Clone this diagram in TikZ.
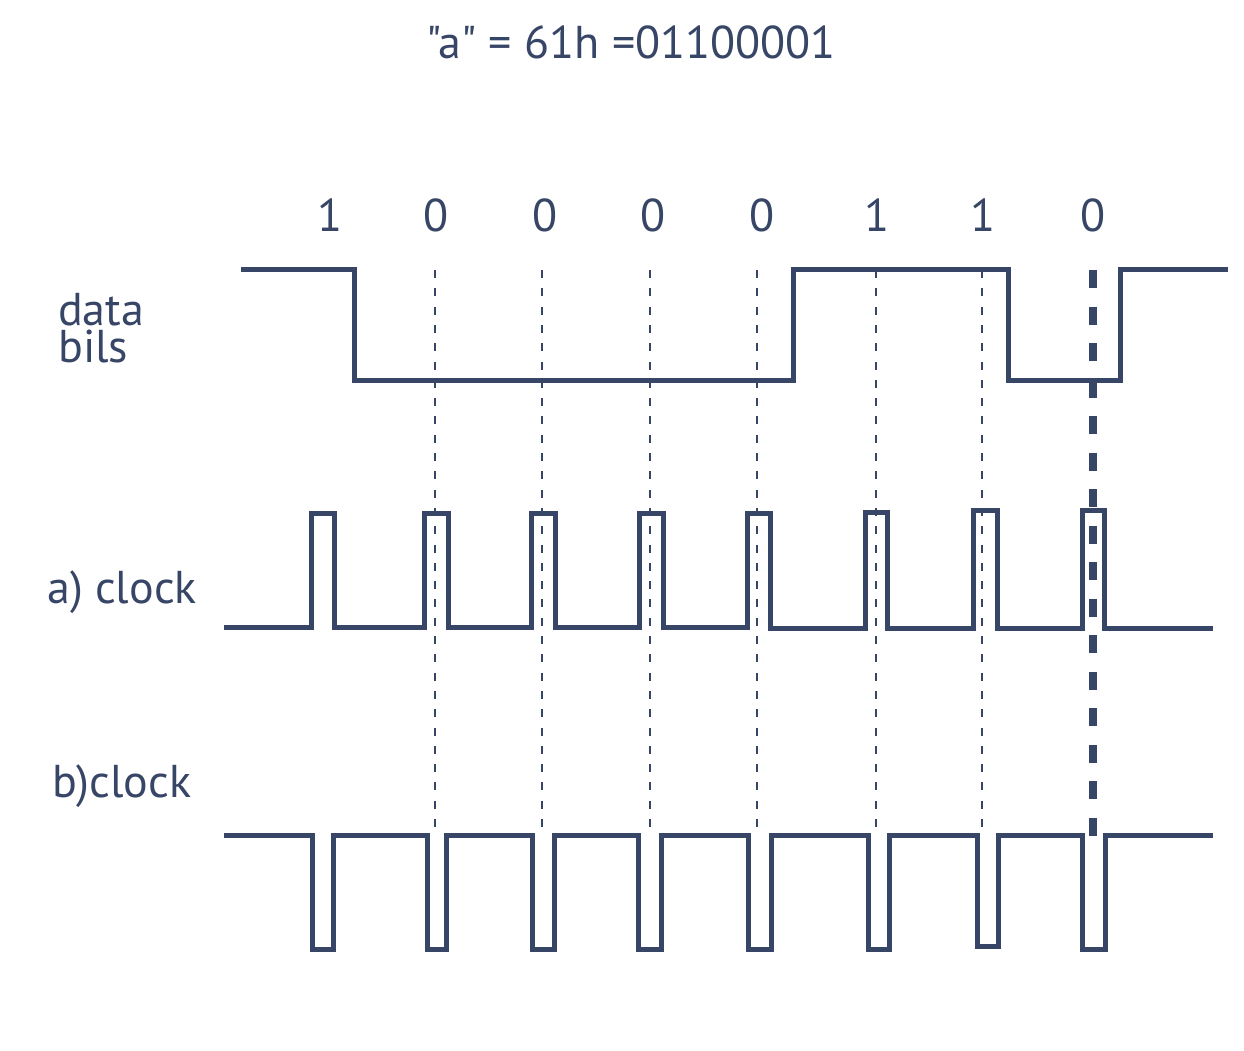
\documentclass[tikz,border=0pt]{standalone}
\usepackage{fontspec}
\setmainfont{PT Sans}[Ligatures=TeXOff]
\begin{document}
\begin{tikzpicture}[x=1pt,y=-1pt,
  sig/.style={draw=ink,line width=5pt,line join=miter},
  guide/.style={draw=ink,line width=2.6pt,dash pattern=on 8pt off 10.3pt},
  guidethick/.style={draw=ink,line width=8pt,dash pattern=on 18pt off 18.5pt},
  lbl/.style={text=ink,inner sep=0pt,font=\fontsize{46}{40}\selectfont},
  bit/.style={lbl,anchor=center}]
\definecolor{ink}{HTML}{374566}
\useasboundingbox (0,0) rectangle (1244,1051);
% title
\node[lbl] (title) at (631,42) {"a" = 61h =01100001};
% bit labels
\foreach \x/\b [count=\i] in {330/1,436/0,545/0,653/0,762/0,877/1,983/1,1093/0}
  \node[bit] (b\i) at (\x,215) {\b};
% side labels
\node[lbl,anchor=base west] (data) at (58,325) {data};
\node[lbl,anchor=base west] (bils) at (58,362) {bils};
\node[lbl,anchor=west] (ca) at (47,592) {a) clock};
\node[lbl,anchor=west] (cb) at (52,786) {b)clock};
% guide lines
\foreach \x [count=\i] in {435,542,650,757,876,982}{
  \coordinate (gt\i) at (\x,270);
  \coordinate (gb\i) at (\x,830);
  \draw[guide] (gt\i) -- (gb\i);
}
\coordinate (gt7) at (1092.5,270);
\coordinate (gb7) at (1092.5,836);
\draw[guidethick] (gt7) -- (gb7);
% data signal
\draw[sig] (241,269.5) -- (354,269.5) -- (354,380.5) -- (793,380.5) -- (793,269.5)
  -- (1008,269.5) -- (1008,380.5) -- (1120,380.5) -- (1120,269.5) -- (1228,269.5);
% clock a
\draw[sig] (224,627) -- (311,627) -- (311,513) -- (334,513) -- (334,627)
  -- (424,627) -- (424,513) -- (448,513) -- (448,627)
  -- (531,627) -- (531,513) -- (555,513) -- (555,627)
  -- (639,627) -- (639,513) -- (663,513) -- (663,627)
  -- (747,627) -- (747,513) -- (770,513) -- (770,628)
  -- (865,628) -- (865,512) -- (887,512) -- (887,628)
  -- (973,628) -- (973,510) -- (997,510) -- (997,628)
  -- (1082,628) -- (1082,510) -- (1104,510) -- (1104,628) -- (1213,628);
% clock b
\draw[sig] (224,835.5) -- (312,835.5) -- (312,949) -- (333,949) -- (333,835.5)
  -- (427.5,835.5) -- (427.5,949) -- (446,949) -- (446,835.5)
  -- (532,835.5) -- (532,949) -- (554,949) -- (554,835.5)
  -- (638,835.5) -- (638,949) -- (661,949) -- (661,835.5)
  -- (748,835.5) -- (748,949) -- (771,949) -- (771,835.5)
  -- (868,835.5) -- (868,949) -- (889,949) -- (889,835.5)
  -- (977,835.5) -- (977,946.5) -- (998.5,946.5) -- (998.5,835.5)
  -- (1082.5,835.5) -- (1082.5,949.5) -- (1105,949.5) -- (1105,835.5) -- (1213,835.5);
\end{tikzpicture}
\end{document}
